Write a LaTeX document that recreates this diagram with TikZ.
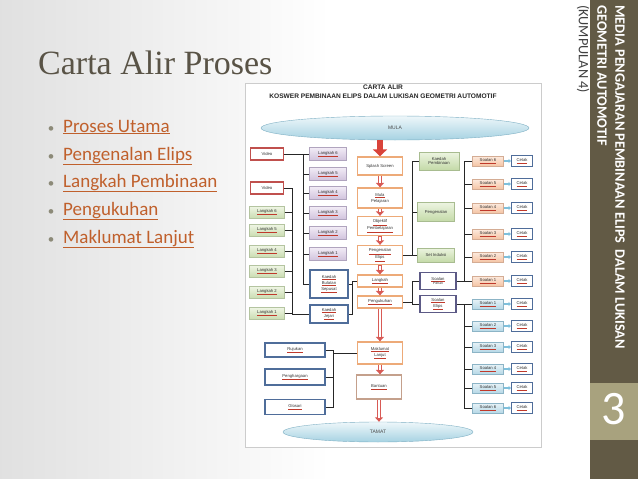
\documentclass[tikz,border=0pt]{standalone}
\usepackage{fontspec}
\setmainfont{Liberation Serif}
\newfontfamily\calibri{Carlito}
\newfontfamily\arialf{Liberation Sans}
\usepackage{tikz}
\usetikzlibrary{positioning}
\usetikzlibrary{calc}
\usetikzlibrary{shapes.geometric}
\usetikzlibrary{arrows.meta}

\definecolor{barbrown}{HTML}{625A45}
\definecolor{numolive}{HTML}{A8A27E}
\definecolor{titlegray}{HTML}{595346}
\definecolor{linkorange}{HTML}{C0602C}
\definecolor{dotgray}{HTML}{8C8A78}
\definecolor{vidred}{HTML}{C0504D}
\definecolor{midorange}{HTML}{EDAA78}
\definecolor{bantuanbrown}{HTML}{C4A08C}
\definecolor{kblue}{HTML}{4F6D9A}
\definecolor{soalpurple}{HTML}{5C5A86}
\definecolor{langGtop}{HTML}{F0F6E6}
\definecolor{langGbot}{HTML}{CBDDB2}
\definecolor{langGline}{HTML}{B4C4A0}
\definecolor{langPtop}{HTML}{F2ECF6}
\definecolor{langPbot}{HTML}{D0C2DC}
\definecolor{langPline}{HTML}{B0A4BE}
\definecolor{greentop}{HTML}{ECF4E0}
\definecolor{greenbot}{HTML}{C4DAA8}
\definecolor{greenline}{HTML}{A8BC90}
\definecolor{soalOtop}{HTML}{FDEBDF}
\definecolor{soalObot}{HTML}{F4C4A4}
\definecolor{soalOline}{HTML}{D4AC94}
\definecolor{soalBtop}{HTML}{E8F3F8}
\definecolor{soalBbot}{HTML}{B6D8E6}
\definecolor{soalBline}{HTML}{8CB4C6}
\definecolor{termtop}{HTML}{EEF7FA}
\definecolor{termbot}{HTML}{A6D2E2}
\definecolor{termline}{HTML}{7FB0C4}
\definecolor{flowred}{HTML}{D85A55}
\definecolor{bigred}{HTML}{D9433A}
\definecolor{cetakblue}{HTML}{7EC0DC}
\definecolor{ulred}{HTML}{C0392B}

\newcommand{\ul}[1]{\textcolor{ulred}{\underline{\textcolor{black!80}{#1}}}}

\begin{document}
\begin{tikzpicture}[x=1pt, y=-1pt,
      box/.style={rectangle, inner sep=0.5pt, align=center, font=\arialf\fontsize{4.2}{4.8}\selectfont, text=black!80},
      midbox/.style={box, draw=midorange, line width=1.3pt, fill=white, minimum width=45},
      vidbox/.style={box, draw=vidred, line width=1.2pt, fill=white, minimum width=33, minimum height=12},
      langG/.style={box, draw=langGline, top color=langGtop, bottom color=langGbot, minimum width=35, minimum height=12},
      langP/.style={box, draw=langPline, top color=langPtop, bottom color=langPbot, minimum width=37, minimum height=13},
      bluebox/.style={box, draw=kblue, line width=1.1pt, fill=white},
      greenbox/.style={box, draw=greenline, top color=greentop, bottom color=greenbot},
      soalbox/.style={box, draw=soalpurple, line width=1.1pt, fill=white, minimum width=36, minimum height=17},
      soalO/.style={box, draw=soalOline, top color=soalOtop, bottom color=soalObot, minimum width=31, minimum height=10},
      soalB/.style={box, draw=soalBline, top color=soalBtop, bottom color=soalBbot, minimum width=31, minimum height=10},
      cetakbox/.style={box, draw=kblue, line width=1pt, fill=white, minimum width=21, minimum height=11},
      terminal/.style={ellipse, draw=termline, top color=termtop, bottom color=termbot, font=\arialf\fontsize{5}{5}\selectfont, text=black!70},
      headtxt/.style={inner sep=0, font=\arialf\bfseries\fontsize{6.6}{6.8}\selectfont, text=black!85},
      sidetxt/.style={rotate=-90, anchor=west, inner sep=0},
      link/.style={draw=black!85, line width=0.6pt},
      flowarrow/.style={draw=flowred, line width=3.6pt, -{Triangle[length=4.5pt, width=8pt]},
        postaction={draw=white, line width=1.4pt, shorten >=4pt, shorten <=0.7pt, -}},
      bigarrow/.style={draw=bigred, line width=6pt, -{Triangle[length=7pt, width=14pt]}},
      cetakarrow/.style={draw=cetakblue, line width=1.3pt, -{Triangle[length=2.5pt, width=4pt]}}]
    \useasboundingbox (0,0) rectangle (638,479);

    % Slide
    \shade[left color=black!12, right color=white] (0,0) rectangle (330,479);
    \fill[white] (330,0) rectangle (590,479);
    \fill[barbrown] (590,0) rectangle (638,479);
    \fill[numolive] (590,383) rectangle (638,440);
    \node[text=white, font=\calibri\fontsize{48}{48}\selectfont] (num) at (614,409) {3};
    \node[sidetxt, text=white, font=\calibri\bfseries\fontsize{14.3}{15}\selectfont] (sideA) at (620,5) {MEDIA PENGAJARAN PEMBINAAN ELIPS\ \ DALAM LUKISAN};
    \node[sidetxt, text=white, font=\calibri\bfseries\fontsize{14.3}{15}\selectfont] (sideB) at (602,5) {GEOMETRI AUTOMOTIF};
    \node[sidetxt, text=black!75, font=\calibri\fontsize{14.3}{15}\selectfont] (sideC) at (583,5) {(KUMPULAN 4)};

    \node[anchor=base west, inner sep=0, text=titlegray, font=\fontsize{34}{34}\selectfont] (title) at (38,74) {Carta Alir Proses};
    \foreach \t/\y [count=\i] in {Proses Utama/132, Pengenalan Elips/160, Langkah Pembinaan/187, Pengukuhan/215, Maklumat Lanjut/243}{
      \node[anchor=base, inner sep=0, text=dotgray, font=\calibri\fontsize{13}{13}\selectfont] (dot\i) at (51,\y) {\textbullet};
      \node[anchor=base west, inner sep=0, text=linkorange, font=\calibri\fontsize{19}{19}\selectfont] (item\i) at (63,\y) {\underline{\t}};
    }

    % Chart frame
    \draw[black!20, fill=white] (245,83) rectangle (541,447);
    \node[headtxt] (carta) at (383,87) {CARTA ALIR};
    \node[headtxt] (koswer) at (383,96) {KOSWER PEMBINAAN ELIPS DALAM LUKISAN GEOMETRI AUTOMOTIF};

    % Main column
    \node[terminal, minimum width=268, minimum height=24] (mula)  at (395,128) {MULA};
    \node[midbox, minimum height=18] (splash)     at (380,166) {Splash Screen};
    \node[midbox, minimum height=20] (mulaPel)    at (380,198) {\ul{Mula}\\Pelajaran};
    \node[midbox, minimum height=19] (objektif)   at (380,226) {\ul{Objektif}\\\ul{Pembelajaran}};
    \node[midbox, minimum height=19] (pengElips)  at (380,255) {\ul{Pengenalan}\\\ul{Elips}};
    \node[midbox, minimum height=12] (langkah)    at (380,281) {\ul{Langkah}};
    \node[midbox, minimum height=12] (pengukuhan) at (380,302) {\ul{Pengukuhan}};
    \node[midbox, minimum height=22] (maklumat)   at (380,353) {\ul{Maklumat}\\\ul{Lanjut}};
    \node[midbox, draw=bantuanbrown, minimum height=24] (bantuan) at (379,387) {\ul{Bantuan}};
    \node[terminal, minimum width=190, minimum height=20] (tamat) at (378,432) {TAMAT};

    % Pengenalan branch
    \node[greenbox, minimum width=40, minimum height=18] (kaedahPemb) at (439,161) {Kaedah\\Pembinaan};
    \node[greenbox, minimum width=37, minimum height=19] (pengenalan) at (436,212) {Pengenalan};
    \node[greenbox, minimum width=37, minimum height=14] (setInduksi) at (436,255) {Set Induksi};

    % Soalan branch
    \node[soalbox] (soalPilihan) at (438,281) {\ul{Soalan}\\{\fontsize{3.4}{4}\selectfont Pilihan}};
    \node[soalbox] (soalElips)   at (438,304) {\ul{Soalan}\\\ul{Elips}};
    \foreach \n/\y in {6/161, 5/184, 4/208, 3/234, 2/257, 1/281}{
      \node[soalO] (so\n) at (488,\y) {\ul{Soalan \n}};
      \node[cetakbox] (co\n) at (522,\y) {\ul{Cetak}};
      \draw[cetakarrow] (so\n) -- (co\n);
    }
    \foreach \n/\y in {1/304, 2/326, 3/347, 4/369, 5/388, 6/408}{
      \node[soalB] (sb\n) at (488,\y) {\ul{Soalan \n}};
      \node[cetakbox] (cb\n) at (522,\y) {\ul{Cetak}};
      \draw[cetakarrow] (sb\n) -- (cb\n);
    }

    % Langkah branch
    \node[vidbox] (video1) at (267,154) {Video};
    \node[vidbox] (video2) at (267,188) {Video};
    \foreach \n/\y in {6/212, 5/230, 4/251, 3/271, 2/292, 1/313}
      \node[langG] (lg\n) at (267,\y) {\ul{Langkah \n}};
    \foreach \n/\y in {6/154, 5/174, 4/193, 3/213, 2/233, 1/254}
      \node[langP] (lp\n) at (328,\y) {\ul{Langkah \n}};
    \node[bluebox, minimum width=38, minimum height=28] (kBulatan) at (329,284) {\ul{Kaedah}\\\ul{Bulatan}\\\ul{Sepusat}};
    \node[bluebox, minimum width=38, minimum height=18] (kJejari)  at (329,314) {\ul{Kaedah}\\\ul{Jejari}};

    % Maklumat branch
    \node[bluebox, minimum width=60, minimum height=14] (rujukan)     at (295,350) {\ul{Rujukan}};
    \node[bluebox, minimum width=60, minimum height=16] (penghargaan) at (295,377) {\ul{Penghargaan}};
    \node[bluebox, minimum width=60, minimum height=15] (glosari)     at (295,407) {\ul{Glosari}};

    % Buses
    \coordinate (busP) at (303,0);
    \coordinate (busG) at (292,0);
    \coordinate (busL) at (352,0);
    \coordinate (busM) at (333,0);
    \coordinate (busK) at (412,0);

    % Arrows
    \draw[bigarrow] (splash.north |- mula.south) -- (splash.north);
    \foreach \a/\b in {splash/mulaPel, mulaPel/objektif, objektif/pengElips, pengElips/langkah, langkah/pengukuhan, pengukuhan/maklumat, maklumat/bantuan}
      \draw[flowarrow] (\a.south) -- (\a.south |- \b.north);
    \draw[flowarrow] (bantuan.south) -- (bantuan.south |- tamat.north);

    % Lines
    \draw[link] (video1) -- (lp6);
    \draw[link] (lp6.west -| busP) -- (kBulatan.west -| busP) -- (kBulatan.west);
    \foreach \n in {5,...,1}
      \draw[link] (lp\n.west) -- (lp\n.west -| busP);
    \draw[link] (video2.east) -- (video2.east -| busG) -- (kJejari.west -| busG) -- (kJejari.west);
    \foreach \n in {6,...,1}
      \draw[link] (lg\n.east) -- (lg\n.east -| busG);
    \draw[link] (langkah.west) -- (langkah.west -| busL) -- (kJejari.east -| busL) -- (kJejari.east);
    \draw[link] (kBulatan.east) -- (kBulatan.east -| busL);
    \draw[link] (maklumat.west) -- (maklumat.west -| busM);
    \draw[link] (rujukan.east) -- (rujukan.east -| busM) -- (glosari.east -| busM) -- (glosari.east);
    \draw[link] (penghargaan.east) -- (penghargaan.east -| busM);
    \draw[link] (pengElips.east) -- (setInduksi.west);
    \draw[link] (kaedahPemb.west) -- (kaedahPemb.west -| busK) -- (setInduksi.west -| busK);
    \draw[link] (pengenalan.west) -- (pengenalan.west -| busK);
    \draw[link] (pengukuhan.east) -- (pengukuhan.east -| busK);
    \draw[link] (soalPilihan.west -| busK) -- (soalElips.west -| busK) -- (soalElips.west);
    \draw[link] (soalPilihan.west) -- (soalPilihan.west -| busK);
    \draw[link] (soalPilihan.east) -- (so1.west);
    \draw[link] ($(so6.west)+(-8,0)$) -- ($(so1.west)+(-8,0)$);
    \foreach \n in {6,...,2}
      \draw[link] (so\n.west) -- ++(-8,0);
    \draw[link] (soalElips.east) -- (sb1.west);
    \draw[link] ($(sb1.west)+(-8,0)$) -- ($(sb6.west)+(-8,0)$);
    \foreach \n in {2,...,6}
      \draw[link] (sb\n.west) -- ++(-8,0);

  \end{tikzpicture}
\end{document}
